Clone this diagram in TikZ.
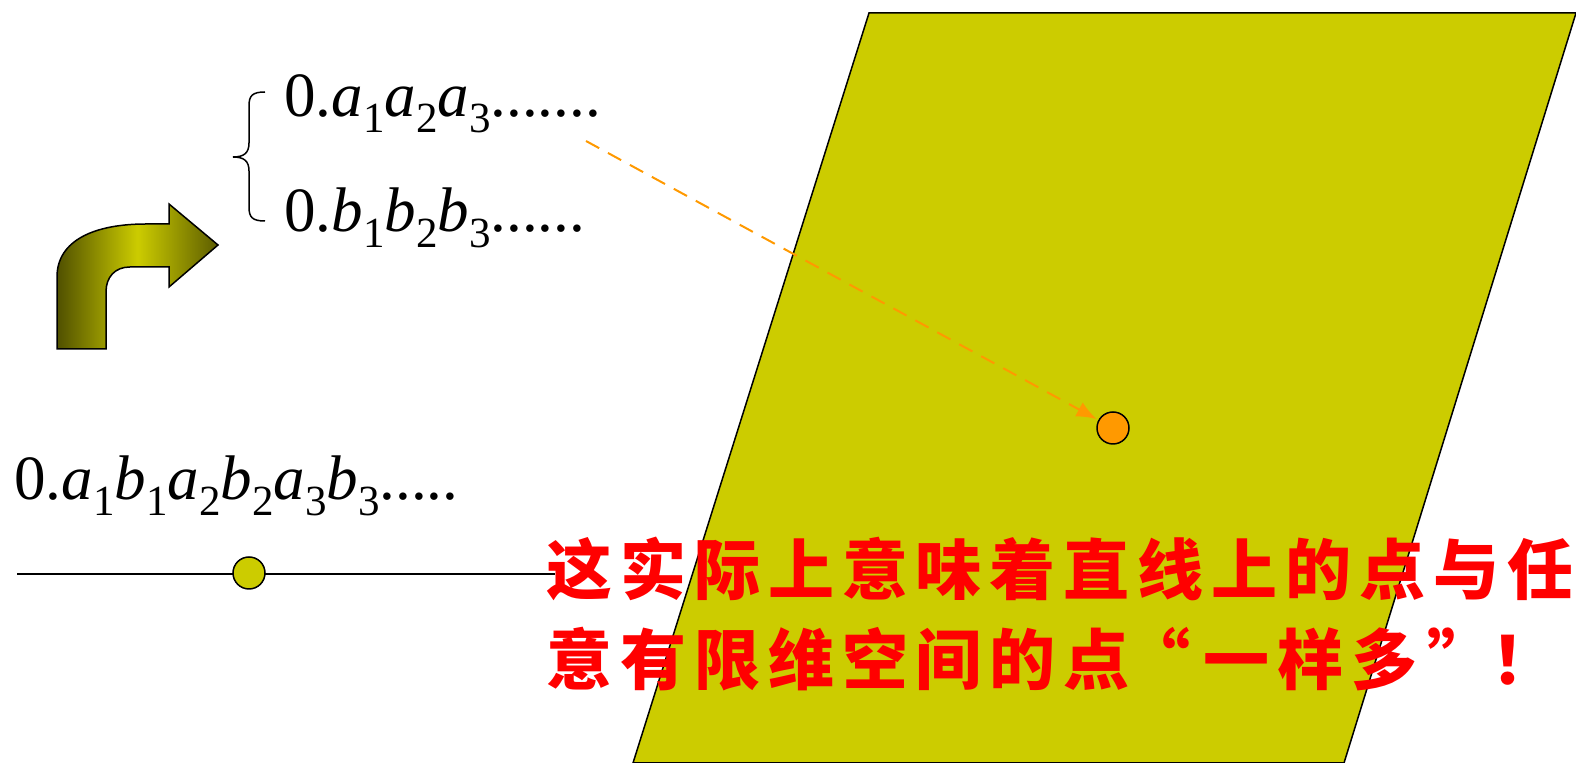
\documentclass[tikz,border=0pt]{standalone}
\usepackage{fontspec}
\setmainfont{Liberation Serif}
\newfontfamily\cjk{Noto Sans CJK SC}[LetterSpace=12]
\usetikzlibrary{arrows.meta}
\definecolor{ylw}{RGB}{204,204,0}
\definecolor{dol}{RGB}{80,80,0}
\definecolor{org}{RGB}{255,153,0}
\newcommand\sbx[1]{\raisebox{-0.24em}{\fontsize{21.5}{22}\selectfont #1}}
\newcommand\qboxr[1]{\makebox[1.12em][r]{#1\hspace{0.2em}}}
\newcommand\qboxl[1]{\makebox[1.12em][l]{\hspace{0.15em}#1}}
\tikzset{
  dotst/.style={circle, draw=black, line width=0.75pt, minimum size=16pt, inner sep=0pt},
  mtext/.style={anchor=base west, inner sep=0pt, font=\fontsize{31.5}{31.5}\selectfont},
  cntext/.style={anchor=base west, inner sep=0pt, text=red, font=\cjk\bfseries\fontsize{33}{33}\selectfont},
  outl/.style={draw=black, line width=0.75pt}
}
\begin{document}
\begin{tikzpicture}[x=0.5pt,y=-0.5pt]
\useasboundingbox (0,0) rectangle (1576,763);
% parallelogram
\path[fill=ylw, outl] (869,13) -- (1576,13) -- (1344,763) -- (633,763) -- cycle;
% number line
\coordinate (l0) at (17,574);
\coordinate (l1) at (555,574);
\draw[line width=0.75pt] (l0) -- (l1);
\node[dotst, fill=ylw] (pline) at (249,573) {};
% orange point
\node[dotst, fill=org] (pplane) at (1113,428) {};
% curved arrow
\path[outl, left color=dol, right color=dol!90!ylw, middle color=ylw]
  (57,349) -- (57,277) .. controls (57,240) and (95,224) .. (146,224)
  -- (169,224) -- (169,204) -- (218,245) -- (169,287) -- (169,267)
  -- (130,267) .. controls (115,267) and (106,277) .. (106,292)
  -- (106,349) -- cycle;
% brace
\draw[line width=0.75pt] (265,92) .. controls (252,92) and (249,96) .. (249,106)
  -- (249,143) .. controls (249,153) and (244,157) .. (233,157)
  .. controls (244,157) and (249,161) .. (249,171)
  -- (249,207) .. controls (249,217) and (252,221) .. (265,221);
% texts
\node[mtext] (ta) at (284,117) {0.\textit{a}\sbx{1}\textit{a}\sbx{2}\textit{a}\sbx{3}.......};
\node[mtext] (tb) at (284,232) {0.\textit{b}\sbx{1}\textit{b}\sbx{2}\textit{b}\sbx{3}......};
\node[mtext] (tab) at (14,500) {0.\textit{a}\sbx{1}\textit{b}\sbx{1}\textit{a}\sbx{2}\textit{b}\sbx{2}\textit{a}\sbx{3}\textit{b}\sbx{3}.....};
% dashed arrow
\coordinate (ds) at (586,141);
\draw[org, line width=1pt, dash pattern=on 7.5pt off 5pt, -{Latex[length=10pt,width=8pt]}, shorten >=1pt] (ds) -- (pplane);
% chinese text
\node[cntext] (c1) at (546,595) {这实际上意味着直线上的点与任};
\node[cntext] (c2) at (546,685) {意有限维空间的点\qboxr{“}一样多\qboxl{”}！};
\end{tikzpicture}
\end{document}
